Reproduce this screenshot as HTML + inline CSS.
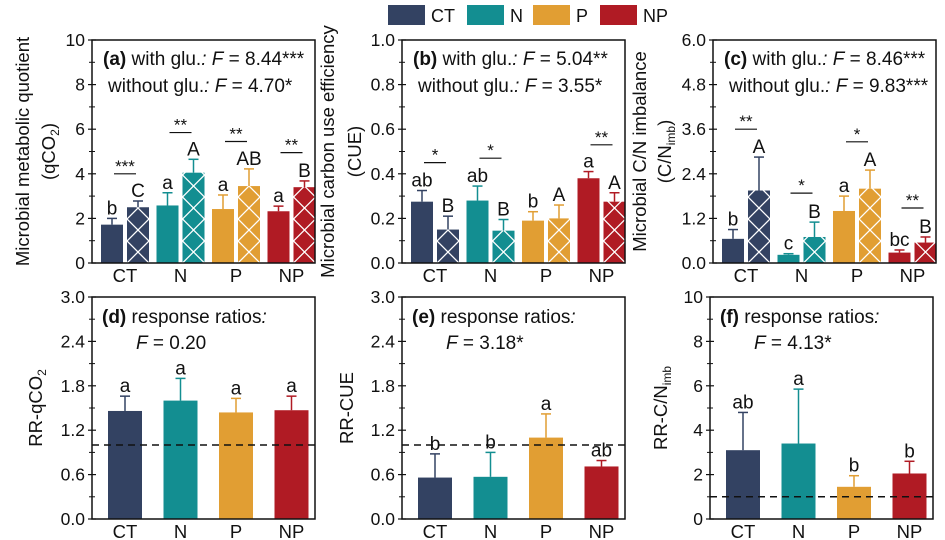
<!DOCTYPE html>
<html><head><meta charset="utf-8">
<style>
html,body{margin:0;padding:0;background:#fff;}
svg{display:block;font-family:"Liberation Sans",Arial,sans-serif;}
</style></head>
<body>
<svg id="fig" width="945" height="540" viewBox="0 0 945 540">
<g id="legend"></g>
</svg>
<script>
const categories = ["CT","N","P","NP"];
// panel a
const aWith = [2.5,4.05,3.45,3.4];
const aWithErr = [0.28,0.6,0.77,0.28];
const aWithout = [1.72,2.58,2.42,2.32];
const aWithoutErr = [0.28,0.57,0.63,0.23];
const aLettersWithout = ["b","a","a","a"];
const aLettersWith = ["C","A","AB","B"];
const aSig = ["***","**","**","**"];
const aSigY = [4.0,5.85,5.45,4.95];
const aTicks = ["0","2","4","6","8","10"];
// panel b
const bWith = [0.15,0.145,0.2,0.275];
const bWithErr = [0.06,0.05,0.06,0.04];
const bWithout = [0.275,0.28,0.19,0.38];
const bWithoutErr = [0.05,0.065,0.04,0.03];
const bLettersWithout = ["ab","ab","b","a"];
const bLettersWith = ["B","B","A","A"];
const bSig = ["*","*","","**"];
const bSigY = [0.45,0.47,0,0.53];
const bTicks = ["0.0","0.2","0.4","0.6","0.8","1.0"];
// panel c
const cWith = [1.95,0.7,2.0,0.55];
const cWithErr = [0.9,0.4,0.5,0.15];
const cWithout = [0.65,0.22,1.4,0.28];
const cWithoutErr = [0.25,0.03,0.4,0.07];
const cLettersWithout = ["b","c","a","bc"];
const cLettersWith = ["A","B","A","B"];
const cSig = ["**","*","*","**"];
const cSigY = [3.6,1.88,3.26,1.48];
const cTicks = ["0.0","1.2","2.4","3.6","4.8","6.0"];
// panel d
const dRR = [1.46,1.6,1.44,1.47];
const dErr = [0.2,0.3,0.19,0.19];
const dLetters = ["a","a","a","a"];
const dTicks = ["0.0","0.6","1.2","1.8","2.4","3.0"];
// panel e
const eRR = [0.56,0.57,1.1,0.71];
const eErr = [0.32,0.33,0.32,0.08];
const eLetters = ["b","b","a","ab"];
const eTicks = ["0.0","0.6","1.2","1.8","2.4","3.0"];
// panel f
const fRR = [3.1,3.4,1.45,2.05];
const fErr = [1.7,2.45,0.5,0.55];
const fLetters = ["ab","a","b","b"];
const fTicks = ["0","2","4","6","8","10"];

const colors = ["#334262","#138e91","#e19e33","#b01b24"];
const NS = "http://www.w3.org/2000/svg";
const svg = document.getElementById('fig');
function mk(tag, attrs, parent){
  const e = document.createElementNS(NS, tag);
  for (const k in attrs) e.setAttribute(k, attrs[k]);
  (parent||svg).appendChild(e);
  return e;
}
let defs = mk('defs',{});

// legend
const leg = document.getElementById('legend');
const legX = [388,467,533,600];
categories.forEach((c,i)=>{
  const r = mk('rect',{x:legX[i],y:5,width:37,height:20,fill:colors[i]},leg);
  
  
  const t = mk('text',{x:legX[i]+43,y:22,'font-size':18,fill:'#111'},leg);
  t.textContent = c;
  
  
});

let pid = 0;
function panel(cfg){
  const g = mk('g',{});
  
  
  const L=cfg.left, R=cfg.left+223, T=cfg.top, B=cfg.bottom;
  const ymax = parseFloat(cfg.ticks[cfg.ticks.length-1]);
  const y = v => B - v/ymax*(B-T);
  const xc = i => L + 33 + i*55.5;
  cfg.ticks.forEach((tl,i)=>{
    const v = parseFloat(tl);
    const yy = y(v);
    const tk = mk('line',{x1:L-4,x2:L+4,y1:yy,y2:yy,stroke:'#111','stroke-width':1.2},g);
    
    
    if(i<cfg.ticks.length-1){
      const ym = y(v + ymax/(cfg.ticks.length-1)/2);
      const mt = mk('line',{x1:L-3,x2:L+3,y1:ym,y2:ym,stroke:'#111','stroke-width':1},g);
      
      
    }
    const t = mk('text',{x:L-7,y:yy+6,'font-size':17.5,'text-anchor':'end',fill:'#111'},g);
    t.textContent = tl;
    
    
  });
  cfg.ytitle.forEach((line,k)=>{
    const t = mk('text',{x:0,y:0,'font-size':18.5,'text-anchor':'middle',fill:'#111',transform:`translate(${line.x},${(T+B)/2}) rotate(-90)`},g);
    t.innerHTML = line.html;
    
    
  });
  function errbar(cx, top, eTop, col){
    const l = mk('line',{x1:cx,x2:cx,y1:top,y2:eTop,stroke:col,'stroke-width':1.5},g);
    
    
    const c = mk('line',{x1:cx-5,x2:cx+5,y1:eTop,y2:eTop,stroke:col,'stroke-width':1.5},g);
    
    
  }
  function letter(cx, yy, s){
    const t = mk('text',{x:cx,y:yy-4,'font-size':19,'text-anchor':'middle',fill:'#111'},g);
    t.textContent = s;
    
    
  }
  categories.forEach((c,i)=>{
    const cx = xc(i), col = colors[i];
    if(cfg.single){
      const v=cfg.single[i], e=cfg.err[i];
      const r = mk('rect',{x:cx-17,y:y(v),width:34,height:B-y(v),fill:col},g);
      
      
      errbar(cx,y(v),y(v+e),col);
      letter(cx,y(v+e),cfg.letters[i]);
    } else {
      const v1=cfg.without[i], e1=cfg.withoutErr[i];
      const r1 = mk('rect',{x:cx-24,y:y(v1),width:22,height:B-y(v1),fill:col},g);
      
      
      errbar(cx-13,y(v1),y(v1+e1),col);
      letter(cx-13,y(v1+e1),cfg.lettersWithout[i]);
      const v2=cfg.with[i], e2=cfg.withErr[i];
      const bx=cx+2, by=y(v2);
      const id='hatch'+(pid++);
      const p = mk('pattern',{id:id,patternUnits:'userSpaceOnUse',x:bx,y:B,width:22,height:22},defs);
      mk('rect',{x:0,y:0,width:22,height:22,fill:col},p);
      mk('path',{d:'M0,0L22,22M22,0L0,22',stroke:'#fff','stroke-width':1.3,fill:'none'},p);
      const r2 = mk('rect',{x:bx,y:by,width:22,height:B-by,fill:`url(#${id})`},g);
      
      
      errbar(cx+13,by,y(v2+e2),col);
      letter(cx+13,y(v2+e2),cfg.lettersWith[i]);
      if(cfg.sig[i]){
        const sy=y(cfg.sigY[i]);
        const sl = mk('line',{x1:cx-11,x2:cx+11,y1:sy,y2:sy,stroke:'#111','stroke-width':1.2},g);
        
        
        const st = mk('text',{x:cx,y:sy-2,'font-size':17,'text-anchor':'middle',fill:'#111'},g);
        st.textContent = cfg.sig[i];
        
        
      }
    }
    const xl = mk('text',{x:cx,y:B+19,'font-size':18.5,'text-anchor':'middle',fill:'#111'},g);
    xl.textContent = c;
    
    
  });
  if(cfg.single){
    const dl = mk('line',{x1:L,x2:R,y1:y(1),y2:y(1),stroke:'#111','stroke-width':1.5,'stroke-dasharray':'7,5'},g);
    
    
  }
  const box = mk('rect',{x:L,y:T,width:R-L,height:B-T,fill:'none',stroke:'#111','stroke-width':1.5},g);
  
  
  cfg.notes.forEach(n=>{
    const t = mk('text',{x:L+n.dx,y:T+n.dy,'font-size':19,fill:'#111'},g);
    t.innerHTML = n.html;
    
    
  });
}
const F = '<tspan font-style="italic">F</tspan>';
const C = '<tspan font-style="italic">:</tspan>';
panel({id:'a',left:92,top:40,bottom:263,ticks:aTicks,with:aWith,withErr:aWithErr,without:aWithout,withoutErr:aWithoutErr,
  lettersWith:aLettersWith,lettersWithout:aLettersWithout,sig:aSig,sigY:aSigY,
  ytitle:[{x:29,html:'Microbial metabolic quotient'},{x:55,html:'(qCO<tspan font-size="12" dy="4">2</tspan><tspan dy="-4">)</tspan>'}],
  notes:[{dx:11,dy:25,html:'<tspan font-weight="bold">(a)</tspan>  with glu.'+C+' '+F+' = 8.44***'},{dx:16,dy:52,html:'without glu.'+C+' '+F+' = 4.70*'}]});
panel({id:'b',left:402,top:40,bottom:263,ticks:bTicks,with:bWith,withErr:bWithErr,without:bWithout,withoutErr:bWithoutErr,
  lettersWith:bLettersWith,lettersWithout:bLettersWithout,sig:bSig,sigY:bSigY,
  ytitle:[{x:334,html:'Microbial carbon use efficiency'},{x:361,html:'(CUE)'}],
  notes:[{dx:11,dy:25,html:'<tspan font-weight="bold">(b)</tspan>  with glu.'+C+' '+F+' = 5.04**'},{dx:16,dy:52,html:'without glu.'+C+' '+F+' = 3.55*'}]});
panel({id:'c',left:713,top:40,bottom:263,ticks:cTicks,with:cWith,withErr:cWithErr,without:cWithout,withoutErr:cWithoutErr,
  lettersWith:cLettersWith,lettersWithout:cLettersWithout,sig:cSig,sigY:cSigY,
  ytitle:[{x:646,html:'Microbial C/N imbalance'},{x:671,html:'(C/N<tspan font-size="12" dy="4">imb</tspan><tspan dy="-4">)</tspan>'}],
  notes:[{dx:11,dy:25,html:'<tspan font-weight="bold">(c)</tspan>  with glu.'+C+' '+F+' = 8.46***'},{dx:16,dy:52,html:'without glu.'+C+' '+F+' = 9.83***'}]});
panel({id:'d',left:92,top:297,bottom:519,ticks:dTicks,single:dRR,err:dErr,letters:dLetters,
  ytitle:[{x:42,html:'RR-qCO<tspan font-size="12" dy="4">2</tspan>'}],
  notes:[{dx:10,dy:26,html:'<tspan font-weight="bold">(d)</tspan>  response ratios'+C},{dx:44,dy:52,html:F+' = 0.20'}]});
panel({id:'e',left:402,top:297,bottom:519,ticks:eTicks,single:eRR,err:eErr,letters:eLetters,
  ytitle:[{x:353,html:'RR-CUE'}],
  notes:[{dx:10,dy:26,html:'<tspan font-weight="bold">(e)</tspan>  response ratios'+C},{dx:44,dy:52,html:F+' = 3.18*'}]});
panel({id:'f',left:710,top:297,bottom:519,ticks:fTicks,single:fRR,err:fErr,letters:fLetters,
  ytitle:[{x:667,html:'RR-C/N<tspan font-size="12" dy="4">imb</tspan>'}],
  notes:[{dx:10,dy:26,html:'<tspan font-weight="bold">(f)</tspan>   response ratios'+C},{dx:44,dy:52,html:F+' = 4.13*'}]});
</script>
</body></html>
